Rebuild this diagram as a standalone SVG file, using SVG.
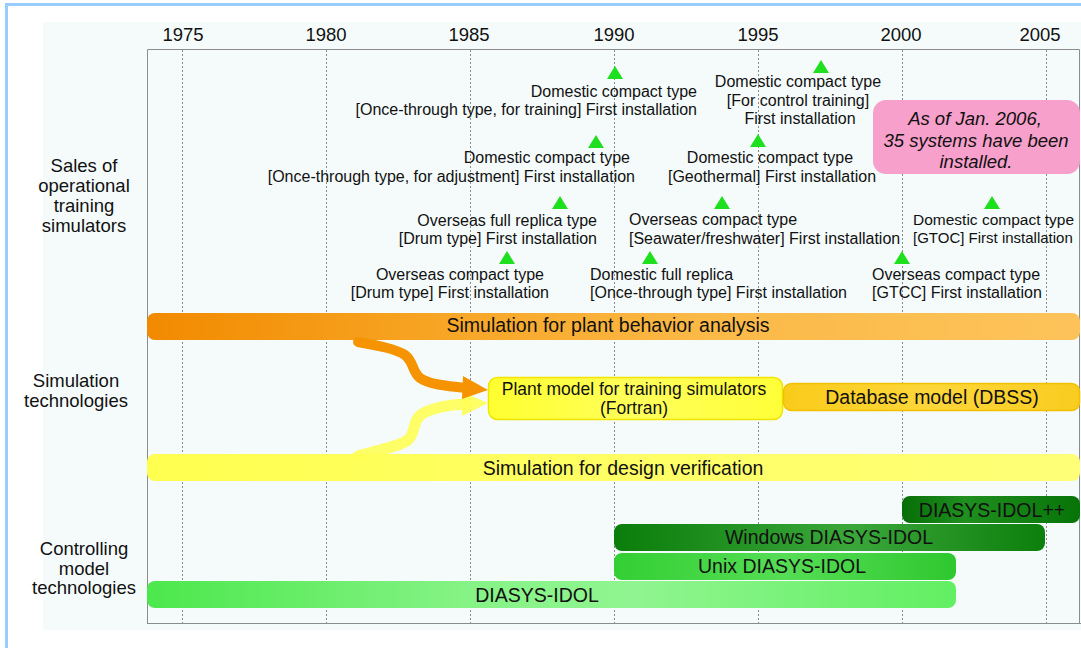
<svg xmlns="http://www.w3.org/2000/svg" width="1081" height="648" viewBox="0 0 1081 648">
<style>
text{font-family:"Liberation Sans",Arial,sans-serif;fill:#111}
.yr{font-size:18.5px;text-anchor:middle}
.cat{font-size:18.5px;text-anchor:middle}
.ann{font-size:16px}
.e{text-anchor:end}
.m{text-anchor:middle}
.bar{font-size:19.5px;text-anchor:middle}
.grid{stroke:#8a8a8a;stroke-width:1;stroke-dasharray:2 2}
.tri{fill:#1ee01e}
.pink{font-size:18.5px;font-style:italic;text-anchor:middle}
</style>
<defs>
<linearGradient id="gOr" x1="0" y1="0" x2="1" y2="0">
<stop offset="0" stop-color="#f28a00"/><stop offset="0.3" stop-color="#f7a423"/><stop offset="0.6" stop-color="#fbb947"/><stop offset="1" stop-color="#fdc35a"/>
</linearGradient>
<linearGradient id="gYe" x1="0" y1="0" x2="1" y2="0">
<stop offset="0" stop-color="#ffff50"/><stop offset="1" stop-color="#ffff78"/>
</linearGradient>
<linearGradient id="gPl" x1="0" y1="0" x2="1" y2="0">
<stop offset="0" stop-color="#ffff30"/><stop offset="0.5" stop-color="#ffff5a"/><stop offset="1" stop-color="#ffff38"/>
</linearGradient>
<linearGradient id="gDb" x1="0" y1="0" x2="1" y2="0">
<stop offset="0" stop-color="#f9cb1a"/><stop offset="0.5" stop-color="#fdd63a"/><stop offset="1" stop-color="#f9cc20"/>
</linearGradient>
<linearGradient id="gG1" x1="0" y1="0" x2="1" y2="0">
<stop offset="0" stop-color="#066e06"/><stop offset="0.35" stop-color="#1f8f1f"/><stop offset="1" stop-color="#077407"/>
</linearGradient>
<linearGradient id="gG2" x1="0" y1="0" x2="1" y2="0">
<stop offset="0" stop-color="#0a7d0a"/><stop offset="0.55" stop-color="#3ba73b"/><stop offset="1" stop-color="#0c7f0c"/>
</linearGradient>
<linearGradient id="gG3" x1="0" y1="0" x2="1" y2="0">
<stop offset="0" stop-color="#33cf33"/><stop offset="0.5" stop-color="#55dd55"/><stop offset="1" stop-color="#2fc82f"/>
</linearGradient>
<linearGradient id="gG4" x1="0" y1="0" x2="1" y2="0">
<stop offset="0" stop-color="#4ce84c"/><stop offset="0.4" stop-color="#86f386"/><stop offset="0.6" stop-color="#90f590"/><stop offset="1" stop-color="#62ef62"/>
</linearGradient>
<path id="tri" d="M0,0 L8,13 L-8,13 Z"/>
</defs>

<rect x="0" y="0" width="1081" height="648" fill="#ffffff"/>
<rect x="5" y="3" width="1076" height="3" fill="#99ccff"/>
<rect x="5" y="3" width="3" height="645" fill="#99ccff"/>
<rect x="43" y="22" width="1038" height="608" fill="#f5fbfb"/>

<!-- grid and frame -->
<g id="grid">
<line class="grid" x1="182.5" y1="50" x2="182.5" y2="623"/>
<line class="grid" x1="326.5" y1="50" x2="326.5" y2="623"/>
<line class="grid" x1="470.5" y1="50" x2="470.5" y2="623"/>
<line class="grid" x1="614.5" y1="50" x2="614.5" y2="623"/>
<line class="grid" x1="758.5" y1="50" x2="758.5" y2="623"/>
<line class="grid" x1="902.5" y1="50" x2="902.5" y2="623"/>
<line class="grid" x1="1046.5" y1="50" x2="1046.5" y2="623"/>
<path d="M147.5,623.5 V49.5 H1079.5 V623.5 M147,623.5 H1081" fill="none" stroke="#8c8c8c" stroke-width="1"/>
</g>

<g id="years">
<text class="yr" x="183" y="41">1975</text>
<text class="yr" x="326" y="41">1980</text>
<text class="yr" x="469" y="41">1985</text>
<text class="yr" x="614" y="41">1990</text>
<text class="yr" x="758" y="41">1995</text>
<text class="yr" x="901" y="41">2000</text>
<text class="yr" x="1040" y="41">2005</text>
</g>

<g id="cat-sales">
<text class="cat" x="84" y="172">Sales of</text>
<text class="cat" x="84" y="192">operational</text>
<text class="cat" x="84" y="212">training</text>
<text class="cat" x="84" y="232">simulators</text>
</g>
<g id="cat-sim">
<text class="cat" x="76" y="387">Simulation</text>
<text class="cat" x="76" y="407">technologies</text>
</g>
<g id="cat-ctrl">
<text class="cat" x="84" y="555">Controlling</text>
<text class="cat" x="84" y="574.5">model</text>
<text class="cat" x="84" y="594">technologies</text>
</g>

<!-- milestones -->
<g id="m1"><use href="#tri" class="tri" x="615" y="66"/>
<text class="ann e" x="697" y="97">Domestic compact type</text>
<text class="ann e" x="697" y="115">[Once-through type, for training] First installation</text></g>
<g id="m2"><use href="#tri" class="tri" x="596" y="135"/>
<text class="ann e" x="630" y="163">Domestic compact type</text>
<text class="ann e" x="635" y="182">[Once-through type, for adjustment] First installation</text></g>
<g id="m3"><use href="#tri" class="tri" x="560" y="196"/>
<text class="ann e" x="597" y="226">Overseas full replica type</text>
<text class="ann e" x="597" y="244">[Drum type] First installation</text></g>
<g id="m4"><use href="#tri" class="tri" x="507" y="251"/>
<text class="ann e" x="544" y="280">Overseas compact type</text>
<text class="ann e" x="549" y="298">[Drum type] First installation</text></g>
<g id="m5"><use href="#tri" class="tri" x="650" y="251"/>
<text class="ann" x="590" y="280">Domestic full replica</text>
<text class="ann" x="590" y="298">[Once-through type] First installation</text></g>
<g id="m6"><use href="#tri" class="tri" x="722" y="196"/>
<text class="ann" x="629" y="225">Overseas compact type</text>
<text class="ann" x="629" y="244">[Seawater/freshwater] First installation</text></g>
<g id="m7"><use href="#tri" class="tri" x="758" y="134"/>
<text class="ann m" x="770" y="163">Domestic compact type</text>
<text class="ann m" x="772" y="182">[Geothermal] First installation</text></g>
<g id="m8"><use href="#tri" class="tri" x="821" y="60"/>
<text class="ann m" x="798" y="87">Domestic compact type</text>
<text class="ann m" x="798" y="106">[For control training]</text>
<text class="ann m" x="800" y="124">First installation</text></g>
<g id="m9"><use href="#tri" class="tri" x="992" y="196"/>
<text class="ann" x="913" y="225" style="font-size:15.5px">Domestic compact type</text>
<text class="ann" x="913" y="243" style="font-size:15px">[GTOC] First installation</text></g>
<g id="m10"><use href="#tri" class="tri" x="902" y="251"/>
<text class="ann" x="872" y="280">Overseas compact type</text>
<text class="ann" x="872" y="298">[GTCC] First installation</text></g>

<g id="note">
<rect x="873" y="100" width="207" height="74" rx="13" fill="#f7a0cc"/>
<text class="pink" x="975" y="125">As of Jan. 2006,</text>
<text class="pink" x="976" y="147">35 systems have been</text>
<text class="pink" x="976" y="168">installed.</text>
</g>

<!-- simulation technologies -->
<g id="bar-plant">
<rect x="147" y="313" width="933" height="27" rx="8" fill="url(#gOr)"/>
<text class="bar" x="608" y="332">Simulation for plant behavior analysis</text>
</g>
<g id="bar-design">
<rect x="147" y="454" width="933" height="27" rx="8" fill="url(#gYe)"/>
<text class="bar" x="623" y="475">Simulation for design verification</text>
</g>

<g id="connectors">
<path d="M358,456 C380,450 400,446 408,440 C416,433 412,420 422,414 C432,408 446,405 466,404" fill="none" stroke="#ffff55" stroke-opacity="0.9" stroke-width="11" stroke-linecap="round"/>
<polygon points="462,392 488,403 462,416" fill="#ffff55" fill-opacity="0.9"/>
<path d="M358,342 C380,346 396,349 405,355 C414,362 412,372 420,378 C428,384 446,386 466,388" fill="none" stroke="#f59400" stroke-width="10" stroke-linecap="round"/>
<polygon points="463,376 488,390 462,399" fill="#f59400"/>
</g>

<g id="node-plant">
<rect x="488.5" y="377.5" width="294" height="42" rx="9" fill="url(#gPl)" stroke="#f2e400" stroke-width="1.5"/>
<text class="m" x="634" y="395" style="font-size:17.5px">Plant model for training simulators</text>
<text class="m" x="634" y="414" style="font-size:17.5px">(Fortran)</text>
</g>
<g id="node-db">
<rect x="783.5" y="383.5" width="296" height="27" rx="8" fill="url(#gDb)" stroke="#f3c000" stroke-width="1.5"/>
<text class="bar" x="932" y="404">Database model (DBSS)</text>
</g>

<!-- controlling model technologies -->
<g id="bar-idolpp">
<rect x="902" y="496" width="178" height="27" rx="8" fill="url(#gG1)"/>
<text class="bar" x="992" y="517">DIASYS-IDOL++</text>
</g>
<g id="bar-win">
<rect x="614" y="524" width="431" height="27" rx="8" fill="url(#gG2)"/>
<text class="bar" x="829" y="544">Windows DIASYS-IDOL</text>
</g>
<g id="bar-unix">
<rect x="614" y="553" width="342" height="27" rx="8" fill="url(#gG3)"/>
<text class="bar" x="782" y="573">Unix DIASYS-IDOL</text>
</g>
<g id="bar-idol">
<rect x="147" y="581" width="809" height="27" rx="8" fill="url(#gG4)"/>
<text class="bar" x="537" y="602">DIASYS-IDOL</text>
</g>
</svg>
